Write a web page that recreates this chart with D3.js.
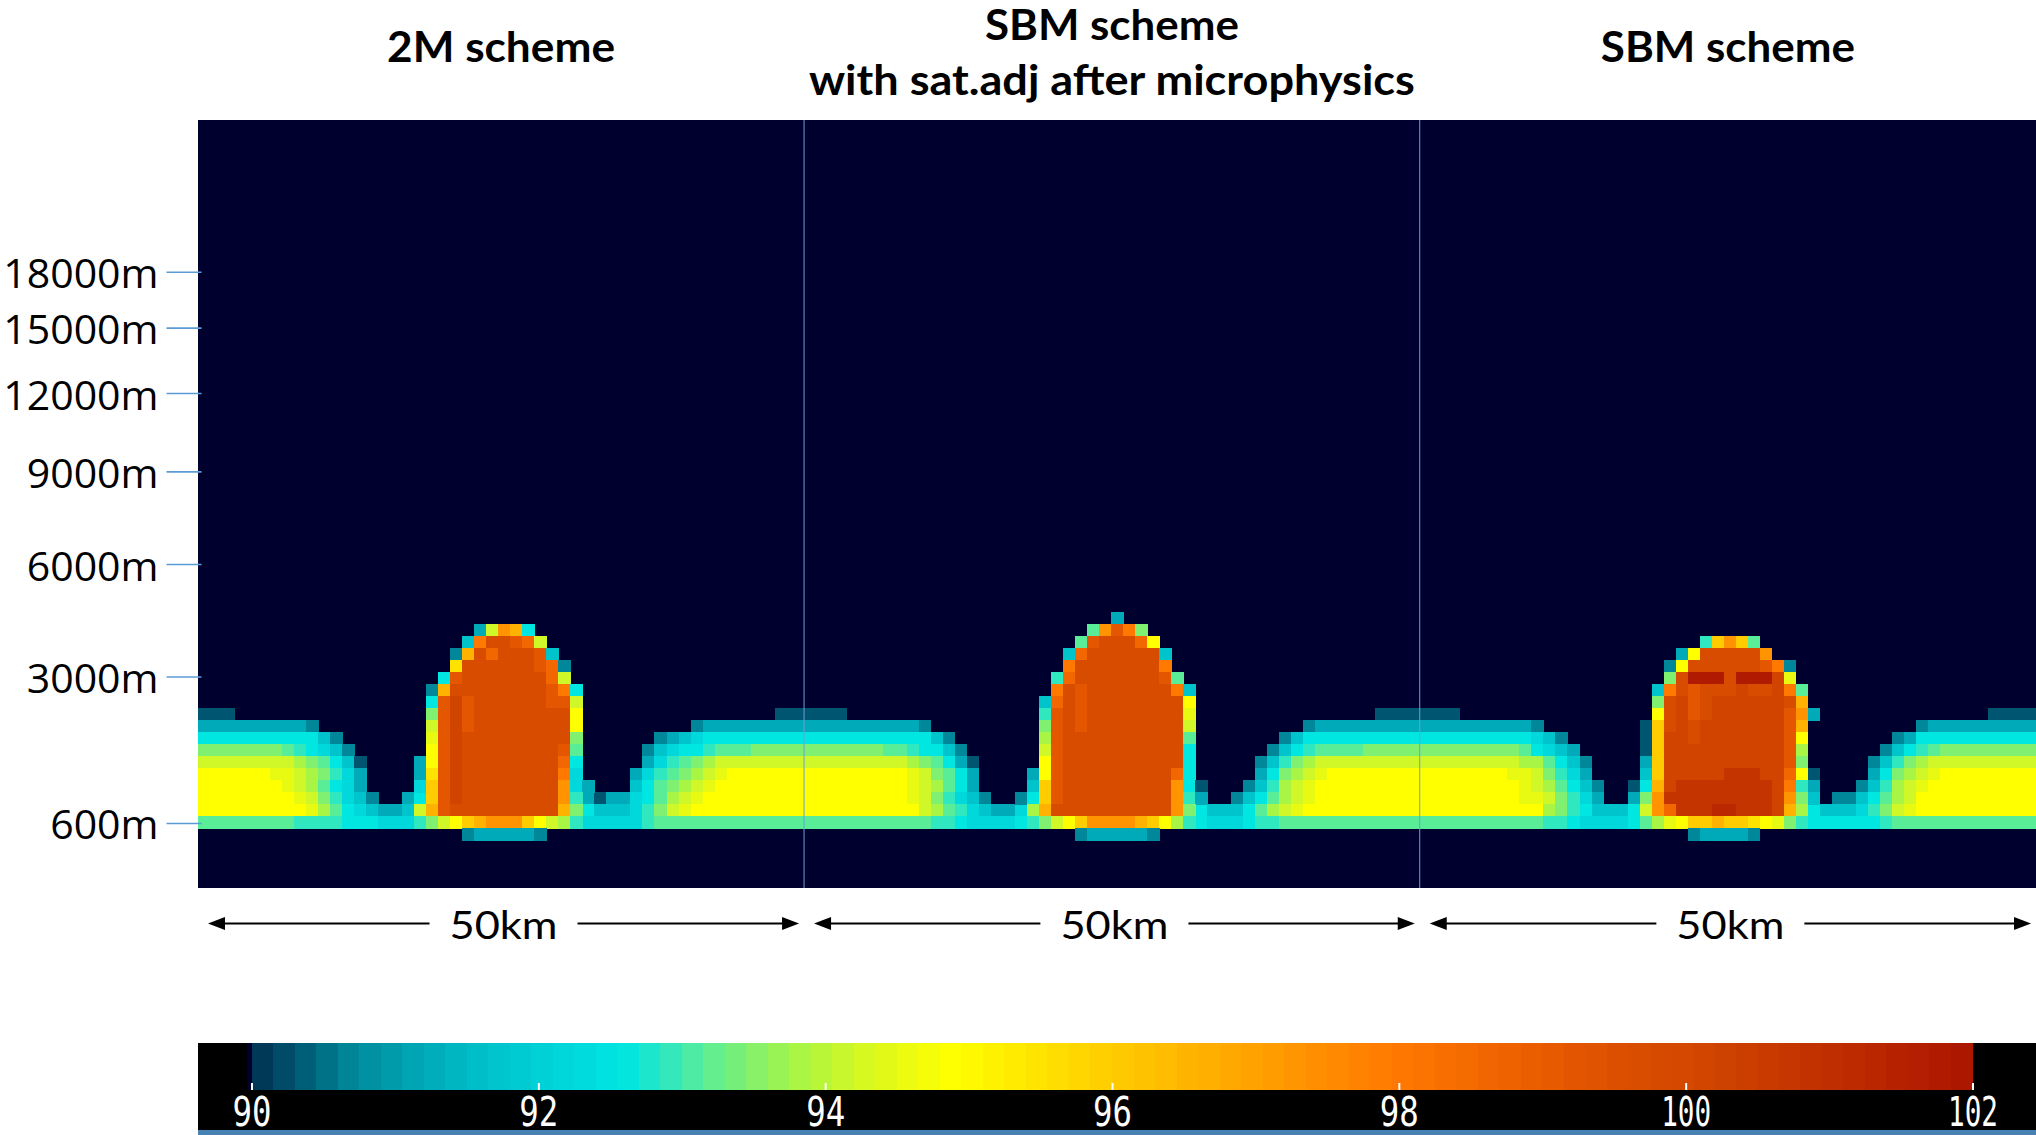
<!DOCTYPE html>
<html>
<head>
<meta charset="utf-8">
<script src="https://cdn.jsdelivr.net/npm/d3@7"></script>
<style>
  html, body { margin: 0; padding: 0; background: #ffffff; }
  svg { display: block; }
</style>
</head>
<body>
<svg id="chart" width="2036" height="1135"></svg>
<script>
// ---------------------------------------------------------------
// Relative humidity (%) cross-sections for three microphysics runs
// ---------------------------------------------------------------

// Panel headings (one entry per line)
const panelTitles = [
  ["2M scheme"],
  ["SBM scheme", "with sat.adj after microphysics"],
  ["SBM scheme"]
];
const panelWidthLabel = "50km";

// Grid: 153 columns (3 x 51 km), 64 model levels
const nCols = 153;
const nLevels = 64;
// Panel separators, in column units
const panelEdges = [0, 50.45, 101.7, 153];

// Height labels and the (stretched) model level where each one sits
const heightTicks = [600, 3000, 6000, 9000, 12000, 15000, 18000];
const heightTickLevels = [58.58, 46.38, 37.0, 29.28, 22.75, 17.3, 12.65];

// Colour bar
const colorbarTicks = [90, 92, 94, 96, 98, 100, 102];
const colorStops = [90.0, 90.3, 90.7, 91.2, 91.7, 92.2, 92.6, 92.9, 93.15, 93.45, 93.8,
                    94.2, 94.5, 94.9, 96.0, 97.3, 98.0, 99.2, 99.7, 100.2, 100.8, 101.8, 102.0];
const colorStopColors = ["#003050", "#005570", "#00889a", "#00aab8", "#00c4cc", "#00d8dc",
                         "#00e6e0", "#30e8c0", "#5aed98", "#80f070", "#a8f545", "#d0f828",
                         "#e8fa12", "#ffff00", "#ffcc00", "#ff9400", "#ff7800", "#e45600",
                         "#d84c00", "#d04400", "#c43400", "#b01a00", "#aa1500"];
const backgroundColor = "#00002e";

// Cell value codes: each letter is one humidity value (%), '.' = below 90 %
const levelCodes  = "abcdefghijklmnopqrstuvwxy";
const levelValues = [90.3, 90.7, 91.2, 91.7, 92.2, 92.6, 92.9, 93.15, 93.45, 93.8, 94.2, 94.5,
                     94.9, 95.5, 96.0, 96.6, 97.3, 98.0, 98.6, 99.2, 99.7, 100.2, 100.8, 101.3, 101.8];

// Runs of cells: [level, first column, codes]
const layerRuns = [
  // shallow layer, left edge
  [49, 0, "aaa"],
  [50, 0, "cccccccccb"],
  [51, 0, "ffffffffffdb"],
  [52, 0, "iiiiiiihgfedb"],
  [53, 0, "kkkkkkkkjihfda"],
  [54, 0, "mmmmmmllkjigec"],
  [55, 0, "mmmmmmmlkjhfec"],
  [56, 0, "mmmmmmmmlkigedb..cf"],
  [57, 0, "mmmmmmmmmljhfedccdk"],
  [58, 0, "hhhhhhhhggggfffeeeg"],
  // shallow layer between first and second tower
  [49, 48, "aaaaaa"],
  [50, 41, "bccccccccccccccccccb"],
  [51, 38, "bcdefffffffffffffffffffdb"],
  [52, 37, "bdeffghhhiiiiiiiiiiihhgffdb"],
  [53, 37, "ceghijkkkkkkkkkkkkkkkkjihfca"],
  [54, 36, "ceghijklmmmmmmmmmmmmmmmlkihfc"],
  [55, 36, "dfhijklmmmmmmmmmmmmmmmmlkjhfc"],
  [56, 32, "caccefhjklmmmmmmmmmmmmmmmmmlkigedb"],
  [57, 32, "fdddegiklmmmmmmmmmmmmmmmmmmmkjhgedcce"],
  [58, 32, "eeeeeghhhhhhhhhhhhhhhhhhhhhhhggfeeeef"],
  // shallow layer between second and third tower
  [49, 98, "aaaaaaa"],
  [50, 92, "bccccccccccccccccccb"],
  [51, 90, "bdfffffffffffffffffffedb"],
  [52, 89, "bdfghhhhiiiiiiiiiiiiihfedc"],
  [53, 88, "bdgijkkkkkkkkkkkkkkkkkjjhfdb"],
  [54, 88, "cfijklmmmmmmmmmmmmmmmllkigec"],
  [55, 87, "bdgjklmmmmmmmmmmmmmmmmmlkjhfdb"],
  [56, 86, "bdfhjklmmmmmmmmmmmmmmmmmllkigec"],
  [57, 83, "fdddfhjklmmmmmmmmmmmmmmmmmmmmjigfddd"],
  [58, 83, "feeefgghhhhhhhhhhhhhhhhhhhhhhggfeeeef"],
  // shallow layer, right edge
  [49, 149, "aaaa"],
  [50, 143, "bccccccccc"],
  [51, 141, "bcffffffffff"],
  [52, 140, "bdfghiiiiiiii"],
  [53, 139, "bdgijkkkkkkkkk"],
  [54, 139, "cfijklmmmmmmmm"],
  [55, 138, "bdgjklmmmmmmmmm"],
  [56, 136, "bbdfhjkmmmmmmmmmm"],
  [57, 134, "fdddegiklmmmmmmmmmm"],
  [58, 134, "ffffffghhhhhhhhhhhh"]
];

const cloud2M = [
  [42, 23, "ckqpf"],
  [43, 22, "druutsk"],
  [44, 21, "bpusuuutd"],
  [45, 21, "nuuuuuutsb"],
  [46, 20, "ftuuuuuuusk"],
  [47, 19, "bpuuuuuuuutrf"],
  [48, 19, "ftvtuuuuuuttk"],
  [49, 19, "itvtuuuuuuuum"],
  [50, 19, "ktvtuuuuuuuum"],
  [51, 19, "ltvuuuuuuuuui"],
  [52, 19, "mtvuuuuuuuuth"],
  [53, 18, "cmtvuuuuuuuusf"],
  [54, 18, "cntvuuuuuuuure"],
  [55, 18, "eotvuuuuuuuuqec"],
  [56, 19, "otvuuuuuuuuqg"],
  [57, 19, "ptuuuuuuuuupi"],
  [58, 19, "ikmopqqqomkjg"],
  [59, 22, "bcccccb"]
];

const cloudSatAdj = [
  [41, 76, "c"],
  [42, 74, "hqtri"],
  [43, 73, "htuuusm"],
  [44, 72, "dsuuuuuud"],
  [45, 72, "ruuuuuuur"],
  [46, 71, "gsuuuuuuuth"],
  [47, 71, "rutuuuuuuurd"],
  [48, 70, "dsutuuuuuuuum"],
  [49, 70, "gtutuuuuuuuul"],
  [50, 70, "itutuuuuuuuuk"],
  [51, 70, "jtuuuuuuuuuuh"],
  [52, 70, "ktuuuuuuuuuuf"],
  [53, 70, "mtuuuuuuuuuuf"],
  [54, 69, "cmtuuuuuuuuusf"],
  [55, 69, "dotuuuuuuuuuqfa"],
  [56, 68, "bfotuuuuuuuuuqgc"],
  [57, 69, "jpuuuuuuuuuuqi"],
  [58, 69, "gikmoqqqqpomjg"],
  [59, 73, "bcccccb"]
];

const cloudSBM = [
  [43, 125, "goqoh"],
  [44, 123, "cmuuuuuq"],
  [45, 122, "bmuuuuuutrb"],
  [46, 122, "iuyyyuyyyvl"],
  [47, 121, "drutuuuvuuvrh"],
  [48, 121, "iuvtuvvvvvvup"],
  [49, 121, "muvtuvvvvvvtqc"],
  [50, 120, "aouvuvvvvvvvtp"],
  [51, 120, "aovvuvvvvvvvtm"],
  [52, 120, "aovvvvvvvvvvtj"],
  [53, 120, "covvvvvvvvvvti"],
  [54, 120, "dovvvvvwwwvvsma"],
  [55, 119, "afpvwwwwwwwwvrgc"],
  [56, 119, "ciqwwwwwwwwwvqid"],
  [57, 119, "fkqswwwxxwwwvpjf"],
  [58, 120, "hjlmoopoonmlig"],
  [59, 124, "bccccb"]
];

// ---------------------------------------------------------------
const svg = d3.select("#chart");

const plotLeft = 198, plotRight = 2036, plotTop = 120, plotBottom = 888;
const xCol = d3.scaleLinear().domain([0, nCols]).range([plotLeft, plotRight]);
const yLev = d3.scaleLinear().domain([0, nLevels]).range([plotTop, plotBottom]);
const yHeight = d3.scaleLinear().domain(heightTicks).range(heightTickLevels.map(yLev));
const color = d3.scaleLinear().domain(colorStops).range(colorStopColors)
  .interpolate(d3.interpolateRgb).clamp(true);

// decode runs into cells (later runs win)
const cellMap = new Map();
[layerRuns, cloud2M, cloudSatAdj, cloudSBM].forEach(runs => {
  runs.forEach(([lev, c0, codes]) => {
    for (let i = 0; i < codes.length; i++) {
      const k = levelCodes.indexOf(codes[i]);
      const col = c0 + i;
      if (k < 0 || col >= nCols) continue;
      cellMap.set(lev * nCols + col, { lev, col, value: levelValues[k] });
    }
  });
});
const cells = Array.from(cellMap.values());

// plot background
svg.append("rect")
  .attr("x", plotLeft).attr("y", plotTop)
  .attr("width", plotRight - plotLeft).attr("height", plotBottom - plotTop)
  .attr("fill", backgroundColor);

// heat-map cells
svg.append("g").attr("class", "cells")
  .selectAll("rect").data(cells).join("rect")
  .attr("x", d => xCol(d.col))
  .attr("y", d => yLev(d.lev))
  .attr("width", d => xCol(d.col + 1) - xCol(d.col) + 0.5)
  .attr("height", yLev(1) - yLev(0) + 0.5)
  .attr("fill", d => color(d.value))
  .attr("shape-rendering", "crispEdges");

// panel separators
svg.append("g").selectAll("line").data(panelEdges.slice(1, -1)).join("line")
  .attr("x1", d => xCol(d)).attr("x2", d => xCol(d))
  .attr("y1", plotTop).attr("y2", plotBottom)
  .attr("stroke", "#6a9fd8").attr("stroke-width", 1);

// height axis
const yAxis = svg.append("g")
  .attr("transform", `translate(${plotLeft + 3.5},0)`)
  .call(d3.axisLeft(yHeight).tickValues(heightTicks).tickFormat(d => d + "m")
        .tickSize(35).tickPadding(8));
yAxis.select(".domain").remove();
yAxis.selectAll(".tick line").attr("stroke", "#5b9bd5").attr("stroke-width", 1.6);
yAxis.selectAll(".tick text")
  .attr("font-family", "'Open Sans', 'Noto Sans', sans-serif")
  .attr("font-size", 41).attr("fill", "#000").attr("dy", "0.39em");

// panel titles
const titleSizes = { "2M scheme": 228, "SBM scheme": 254, "with sat.adj after microphysics": 606 };
panelTitles.forEach((lines, i) => {
  const cx = (xCol(panelEdges[i]) + xCol(panelEdges[i + 1])) / 2;
  const baselines = lines.length === 1 ? [62] : [40, 95];
  lines.forEach((t, j) => {
    svg.append("text")
      .attr("x", cx).attr("y", baselines[j])
      .attr("text-anchor", "middle")
      .attr("font-family", "Lato, 'Open Sans', sans-serif")
      .attr("font-weight", 700).attr("font-size", 42)
      .attr("textLength", titleSizes[t]).attr("lengthAdjust", "spacingAndGlyphs")
      .attr("fill", "#000")
      .text(t);
  });
});

// width arrows under each panel
const arrowY = 923.5, headLen = 17, headHalf = 6.5, textHalf = 54, gap = 20;
panelEdges.slice(0, -1).forEach((e, i) => {
  const xl = xCol(e) + 10, xr = xCol(panelEdges[i + 1]) - 5;
  const cx = (xl + xr) / 2;
  const g = svg.append("g");
  g.append("line").attr("x1", xl + headLen - 2).attr("x2", cx - textHalf - gap)
    .attr("y1", arrowY).attr("y2", arrowY).attr("stroke", "#000").attr("stroke-width", 2.2);
  g.append("line").attr("x1", cx + textHalf + gap).attr("x2", xr - headLen + 2)
    .attr("y1", arrowY).attr("y2", arrowY).attr("stroke", "#000").attr("stroke-width", 2.2);
  g.append("path").attr("d", `M${xl},${arrowY} L${xl + headLen},${arrowY - headHalf} L${xl + headLen},${arrowY + headHalf} Z`)
    .attr("fill", "#000");
  g.append("path").attr("d", `M${xr},${arrowY} L${xr - headLen},${arrowY - headHalf} L${xr - headLen},${arrowY + headHalf} Z`)
    .attr("fill", "#000");
  g.append("text").attr("x", cx).attr("y", 939).attr("text-anchor", "middle")
    .attr("font-family", "Lato, 'Open Sans', sans-serif").attr("font-size", 38)
    .attr("textLength", 2 * textHalf).attr("lengthAdjust", "spacingAndGlyphs")
    .attr("fill", "#000").text(panelWidthLabel);
});

// colour bar
const cbTop = 1043, cbBottom = 1090, cbLabelBottom = 1130;
const cbScale = d3.scaleLinear().domain([90, 102]).range([251.5, 1972.5]);
svg.append("rect").attr("x", plotLeft).attr("y", cbTop)
  .attr("width", plotRight - plotLeft).attr("height", cbLabelBottom - cbTop).attr("fill", "#000");
svg.append("rect").attr("x", plotLeft).attr("y", cbLabelBottom)
  .attr("width", plotRight - plotLeft).attr("height", 5).attr("fill", "#4682b4");
svg.append("rect").attr("x", cbScale(89.97)).attr("y", cbTop)
  .attr("width", cbScale(90) - cbScale(89.97)).attr("height", cbBottom - cbTop)
  .attr("fill", backgroundColor);
const cbStep = 0.15;
const cbSteps = d3.range(90, 102 - 1e-9, cbStep);
svg.append("g").selectAll("rect").data(cbSteps).join("rect")
  .attr("x", d => cbScale(d))
  .attr("y", cbTop)
  .attr("width", d => cbScale(Math.min(d + cbStep, 102)) - cbScale(d) + 0.6)
  .attr("height", cbBottom - cbTop)
  .attr("fill", d => color(Math.min(d + cbStep / 2, 102)))
  .attr("shape-rendering", "crispEdges");

const cbAxis = svg.append("g").attr("transform", `translate(0,${cbBottom})`)
  .call(d3.axisBottom(cbScale).tickValues(colorbarTicks).tickFormat(d3.format("d"))
        .tickSize(-7).tickPadding(7.6));
cbAxis.select(".domain").remove();
cbAxis.selectAll(".tick line").attr("stroke", "#fff").attr("stroke-width", 2);
cbAxis.selectAll(".tick text")
  .attr("font-family", "'DejaVu Sans Mono', 'Liberation Mono', monospace")
  .attr("font-weight", 300)
  .attr("font-size", 40).attr("fill", "#fff")
  .attr("textLength", d => String(d).length === 3 ? 50 : 39)
  .attr("lengthAdjust", "spacingAndGlyphs");
</script>
</body>
</html>
